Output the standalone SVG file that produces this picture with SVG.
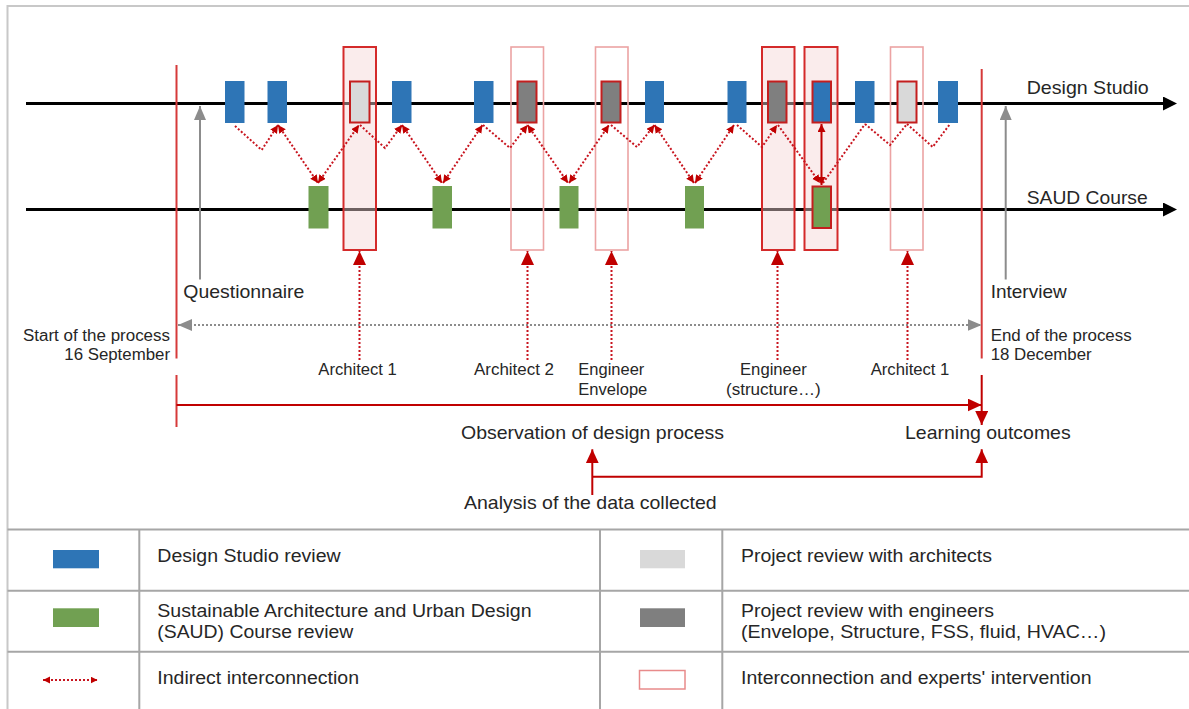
<svg xmlns="http://www.w3.org/2000/svg" width="1189" height="709" viewBox="0 0 1189 709">
<style>
text{font-family:"Liberation Sans",Arial,sans-serif;fill:#262626}
.lg{font-size:18.5px}
.sm{font-size:16px}
.lgd{font-size:17.5px}
.blue{fill:#2e75b6}
.green{fill:#71a052}
.light{fill:#d9d9d9}
.dark{fill:#7f7f7f}
.rs{stroke:#c41e1e;stroke-width:2}
.exp-strong{fill:#f5d5d5;fill-opacity:0.45;stroke:#d42a2a;stroke-width:2}
.exp-light{fill:none;stroke:#eca3a3;stroke-width:1.6}
.tl{stroke:#000;stroke-width:3;fill:none}
.dot{stroke:#c8141e;stroke-width:2;stroke-dasharray:2 2;fill:none}
.red{stroke:#c00000;stroke-width:2;fill:none}
.redv{stroke:#d63a3a;stroke-width:2;fill:none}
.gray{stroke:#8c8c8c;stroke-width:2;fill:none}
.graydot{stroke:#8c8c8c;stroke-width:2;stroke-dasharray:2 2;fill:none}
.grid{stroke:#a6a6a6;stroke-width:2;fill:none}
.frame{stroke:#c8c8c8;stroke-width:2;fill:none}
</style>
<defs>
<marker id="mkBlack" markerUnits="userSpaceOnUse" markerWidth="15" markerHeight="14" refX="2" refY="7" orient="auto"><path d="M0,0 L14,7 L0,14 z" fill="#000"/></marker>
<marker id="mkRedBig" markerUnits="userSpaceOnUse" markerWidth="15" markerHeight="14" refX="14" refY="6.5" orient="auto-start-reverse"><path d="M0,0 L14,6.5 L0,13 z" fill="#c00000"/></marker>
<marker id="mkRedSm" markerUnits="userSpaceOnUse" markerWidth="9" markerHeight="9" refX="8" refY="4" orient="auto-start-reverse"><path d="M0,0 L8,4 L0,8 z" fill="#c00000"/></marker>
<marker id="mkRedXs" markerUnits="userSpaceOnUse" markerWidth="8" markerHeight="8" refX="7" refY="3.5" orient="auto-start-reverse"><path d="M0,0 L7,3.5 L0,7 z" fill="#c00000"/></marker>
<marker id="mkGray" markerUnits="userSpaceOnUse" markerWidth="15" markerHeight="13" refX="14" refY="6" orient="auto-start-reverse"><path d="M0,0 L14,6 L0,12 z" fill="#8c8c8c"/></marker>
</defs>

<rect width="1189" height="709" fill="#fff"/>
<!-- outer frame -->
<path class="frame" d="M7.5,709 V6 H1189"/>

<!-- timelines -->
<g id="timelines">
<path class="tl" d="M26,103.5 H1165" marker-end="url(#mkBlack)"/>
<path class="tl" d="M26,209.5 H1165" marker-end="url(#mkBlack)"/>
<text class="lg" x="1026.7" y="94.3" textLength="122" lengthAdjust="spacingAndGlyphs">Design Studio</text>
<text class="lg" x="1026.7" y="204" textLength="121" lengthAdjust="spacingAndGlyphs">SAUD Course</text>
</g>

<!-- expert intervention frames -->
<g id="expert-frames">
<rect id="frame-arch1" class="exp-strong" x="343.5" y="47" width="32.5" height="203"/>
<rect id="frame-arch2" class="exp-light" x="511" y="47" width="32.5" height="203"/>
<rect id="frame-env" class="exp-light" x="595.5" y="47" width="32.5" height="203"/>
<rect id="frame-struct" class="exp-strong" x="762" y="47" width="32.5" height="203"/>
<rect id="frame-direct" class="exp-strong" x="804.5" y="47" width="33" height="203"/>
<rect id="frame-arch1b" class="exp-light" x="890.5" y="47" width="32.5" height="203"/>
</g>

<!-- connectors -->
<g id="connectors">
<polyline class="dot" points="235,126 261.7,150 278,125" marker-end="url(#mkRedSm)"/>
<line class="dot" x1="278" y1="125" x2="318" y2="183" marker-start="url(#mkRedSm)" marker-end="url(#mkRedSm)"/>
<line class="dot" x1="318" y1="183" x2="359" y2="125" marker-start="url(#mkRedSm)" marker-end="url(#mkRedSm)"/>
<polyline class="dot" points="360,125 385,148 402,125" marker-end="url(#mkRedSm)"/>
<line class="dot" x1="402" y1="125" x2="442" y2="183" marker-start="url(#mkRedSm)" marker-end="url(#mkRedSm)"/>
<line class="dot" x1="443" y1="183" x2="482.5" y2="125" marker-start="url(#mkRedSm)" marker-end="url(#mkRedSm)"/>
<polyline class="dot" points="483,125 510,148 527.5,125" marker-end="url(#mkRedSm)"/>
<line class="dot" x1="527.5" y1="125" x2="568" y2="183" marker-start="url(#mkRedSm)" marker-end="url(#mkRedSm)"/>
<line class="dot" x1="569" y1="183" x2="609" y2="125" marker-start="url(#mkRedSm)" marker-end="url(#mkRedSm)"/>
<polyline class="dot" points="611,125 637,147 654.5,125" marker-end="url(#mkRedSm)"/>
<line class="dot" x1="654.5" y1="125" x2="694" y2="183" marker-start="url(#mkRedSm)" marker-end="url(#mkRedSm)"/>
<line class="dot" x1="695" y1="183" x2="734" y2="125" marker-start="url(#mkRedSm)" marker-end="url(#mkRedSm)"/>
<polyline class="dot" points="737,125 762,147 777,125" marker-end="url(#mkRedSm)"/>
<line class="dot" x1="778" y1="125" x2="820" y2="183" marker-end="url(#mkRedSm)"/>
<line class="dot" x1="823" y1="183" x2="865" y2="124"/>
<polyline class="dot" points="865,124 890,145 907,124"/>
<polyline class="dot" points="907,124 932.7,147 950,124"/>
<line class="red" x1="821.5" y1="124" x2="821.5" y2="185" marker-start="url(#mkRedSm)" marker-end="url(#mkRedSm)"/>

<!-- expert arrows -->
<line class="dot" x1="359.5" y1="360" x2="359.5" y2="251" marker-end="url(#mkRedBig)"/>
<line class="dot" x1="527.5" y1="360" x2="527.5" y2="251" marker-end="url(#mkRedBig)"/>
<line class="dot" x1="611.5" y1="360" x2="611.5" y2="251" marker-end="url(#mkRedBig)"/>
<line class="dot" x1="777.5" y1="360" x2="777.5" y2="251" marker-end="url(#mkRedBig)"/>
<line class="dot" x1="907.5" y1="360" x2="907.5" y2="251" marker-end="url(#mkRedBig)"/>

<!-- start / end lines -->
<path class="redv" d="M176.5,65 V358.5 M176.5,375 V427"/>
<path class="redv" d="M981.7,69 V358.5"/>
<line class="red" x1="981.7" y1="375" x2="981.7" y2="425" marker-end="url(#mkRedBig)"/>
<line class="red" x1="176.5" y1="405" x2="981.7" y2="405" marker-end="url(#mkRedBig)"/>

<!-- gray questionnaire / interview -->
<line class="gray" x1="200" y1="279.5" x2="200" y2="106" marker-end="url(#mkGray)"/>
<line class="gray" x1="1005.7" y1="279.5" x2="1005.7" y2="106" marker-end="url(#mkGray)"/>
<line class="graydot" x1="178" y1="325" x2="981.7" y2="325" marker-start="url(#mkGray)" marker-end="url(#mkGray)"/>

<!-- analysis arrows -->
<line class="red" x1="592.3" y1="495" x2="592.3" y2="449.3" marker-end="url(#mkRedBig)"/>
<polyline class="red" points="592.3,476.7 981.7,476.7 981.7,449.3" marker-end="url(#mkRedBig)"/>
</g>

<!-- review nodes -->
<g id="ds-1"><rect class="blue" x="225" y="81" width="19.5" height="42"/></g>
<g id="ds-2"><rect class="blue" x="267.5" y="81" width="19.5" height="42"/></g>
<g id="arch-1"><rect class="light rs" x="350" y="81.5" width="19.5" height="41"/></g>
<g id="ds-3"><rect class="blue" x="392" y="81" width="19.5" height="42"/></g>
<g id="ds-4"><rect class="blue" x="474" y="81" width="19.5" height="42"/></g>
<g id="eng-1"><rect class="dark rs" x="517.5" y="81.5" width="19" height="41"/></g>
<g id="eng-2"><rect class="dark rs" x="601.5" y="81.5" width="19" height="41"/></g>
<g id="ds-5"><rect class="blue" x="645" y="81" width="19" height="42"/></g>
<g id="ds-6"><rect class="blue" x="727.5" y="81" width="19" height="42"/></g>
<g id="eng-3"><rect class="dark rs" x="768" y="81.5" width="18.5" height="41"/></g>
<g id="ds-7"><rect class="blue rs" x="812.5" y="81.5" width="18.5" height="41"/></g>
<g id="ds-8"><rect class="blue" x="855" y="81" width="19.5" height="42"/></g>
<g id="arch-2"><rect class="light rs" x="897.5" y="81.5" width="19" height="41"/></g>
<g id="ds-9"><rect class="blue" x="938" y="81" width="20" height="42"/></g>

<g id="saud-1"><rect class="green" x="308.5" y="186" width="20" height="42.5"/></g>
<g id="saud-2"><rect class="green" x="432.5" y="186" width="19.5" height="42.5"/></g>
<g id="saud-3"><rect class="green" x="559.5" y="186" width="19" height="42.5"/></g>
<g id="saud-4"><rect class="green" x="685" y="186" width="19" height="42.5"/></g>
<g id="saud-5"><rect class="green rs" x="812.5" y="186.5" width="18.5" height="41.5"/></g>

<!-- labels -->
<g id="labels">
<text class="lg" x="183.3" y="297.7" textLength="121" lengthAdjust="spacingAndGlyphs">Questionnaire</text>
<text class="lg" x="990.7" y="297.7" textLength="76" lengthAdjust="spacingAndGlyphs">Interview</text>
<text class="sm" x="170" y="340.7" text-anchor="end" textLength="147" lengthAdjust="spacingAndGlyphs">Start of the process</text>
<text class="sm" x="170" y="360" text-anchor="end" textLength="105.7" lengthAdjust="spacingAndGlyphs">16 September</text>
<text class="sm" x="990.7" y="340.7" textLength="141" lengthAdjust="spacingAndGlyphs">End of the process</text>
<text class="sm" x="990.7" y="360" textLength="101" lengthAdjust="spacingAndGlyphs">18 December</text>
<text class="sm" x="318.3" y="375" textLength="78.5" lengthAdjust="spacingAndGlyphs">Architect 1</text>
<text class="sm" x="474" y="375" textLength="80" lengthAdjust="spacingAndGlyphs">Architect 2</text>
<text class="sm" x="578.3" y="375" textLength="66" lengthAdjust="spacingAndGlyphs">Engineer</text>
<text class="sm" x="578.3" y="395" textLength="69" lengthAdjust="spacingAndGlyphs">Envelope</text>
<text class="sm" x="740" y="375" textLength="66.7" lengthAdjust="spacingAndGlyphs">Engineer</text>
<text class="sm" x="726" y="395" textLength="94.7" lengthAdjust="spacingAndGlyphs">(structure…)</text>
<text class="sm" x="870.7" y="375" textLength="78.7" lengthAdjust="spacingAndGlyphs">Architect 1</text>
<text class="lg" x="461" y="439.3" textLength="263" lengthAdjust="spacingAndGlyphs">Observation of design process</text>
<text class="lg" x="905" y="439.3" textLength="165.7" lengthAdjust="spacingAndGlyphs">Learning outcomes</text>
<text class="lg" x="464" y="509.3" textLength="252.7" lengthAdjust="spacingAndGlyphs">Analysis of the data collected</text>
</g>

<!-- legend -->
<g id="legend">
<path class="grid" d="M7.5,529.5 H1189 M7.5,590.7 H1189 M7.5,651.7 H1189 M139.3,529.5 V709 M600,529.5 V709 M722.3,529.5 V709"/>
<g id="legend-ds"><rect class="blue" x="53" y="550" width="46" height="18.3"/>
<text class="lgd" x="157.3" y="561.7" textLength="183.3" lengthAdjust="spacingAndGlyphs">Design Studio review</text></g>
<g id="legend-saud"><rect class="green" x="53" y="608.3" width="46" height="18.7"/>
<text class="lgd" x="157.3" y="616.7" textLength="374.3" lengthAdjust="spacingAndGlyphs">Sustainable Architecture and Urban Design</text>
<text class="lgd" x="157.3" y="638.3" textLength="196" lengthAdjust="spacingAndGlyphs">(SAUD) Course review</text></g>
<g id="legend-indirect"><line class="dot" x1="43" y1="680" x2="97.5" y2="680" stroke-width="1.5" marker-start="url(#mkRedXs)" marker-end="url(#mkRedXs)"/>
<text class="lgd" x="157.3" y="684" textLength="201.7" lengthAdjust="spacingAndGlyphs">Indirect interconnection</text></g>
<g id="legend-arch"><rect class="light" x="640" y="550" width="45" height="18.3"/>
<text class="lgd" x="741" y="561.7" textLength="251" lengthAdjust="spacingAndGlyphs">Project review with architects</text></g>
<g id="legend-eng"><rect class="dark" x="640" y="608.3" width="45" height="18.7"/>
<text class="lgd" x="741" y="616.7" textLength="253" lengthAdjust="spacingAndGlyphs">Project review with engineers</text>
<text class="lgd" x="741" y="638.3" textLength="365" lengthAdjust="spacingAndGlyphs">(Envelope, Structure, FSS, fluid, HVAC…)</text></g>
<g id="legend-expert"><rect x="639.5" y="670.5" width="45.5" height="18.5" fill="#fff" stroke="#e88b8b" stroke-width="1.5"/>
<text class="lgd" x="741" y="684" textLength="350.5" lengthAdjust="spacingAndGlyphs">Interconnection and experts' intervention</text></g>
</g>
</svg>
